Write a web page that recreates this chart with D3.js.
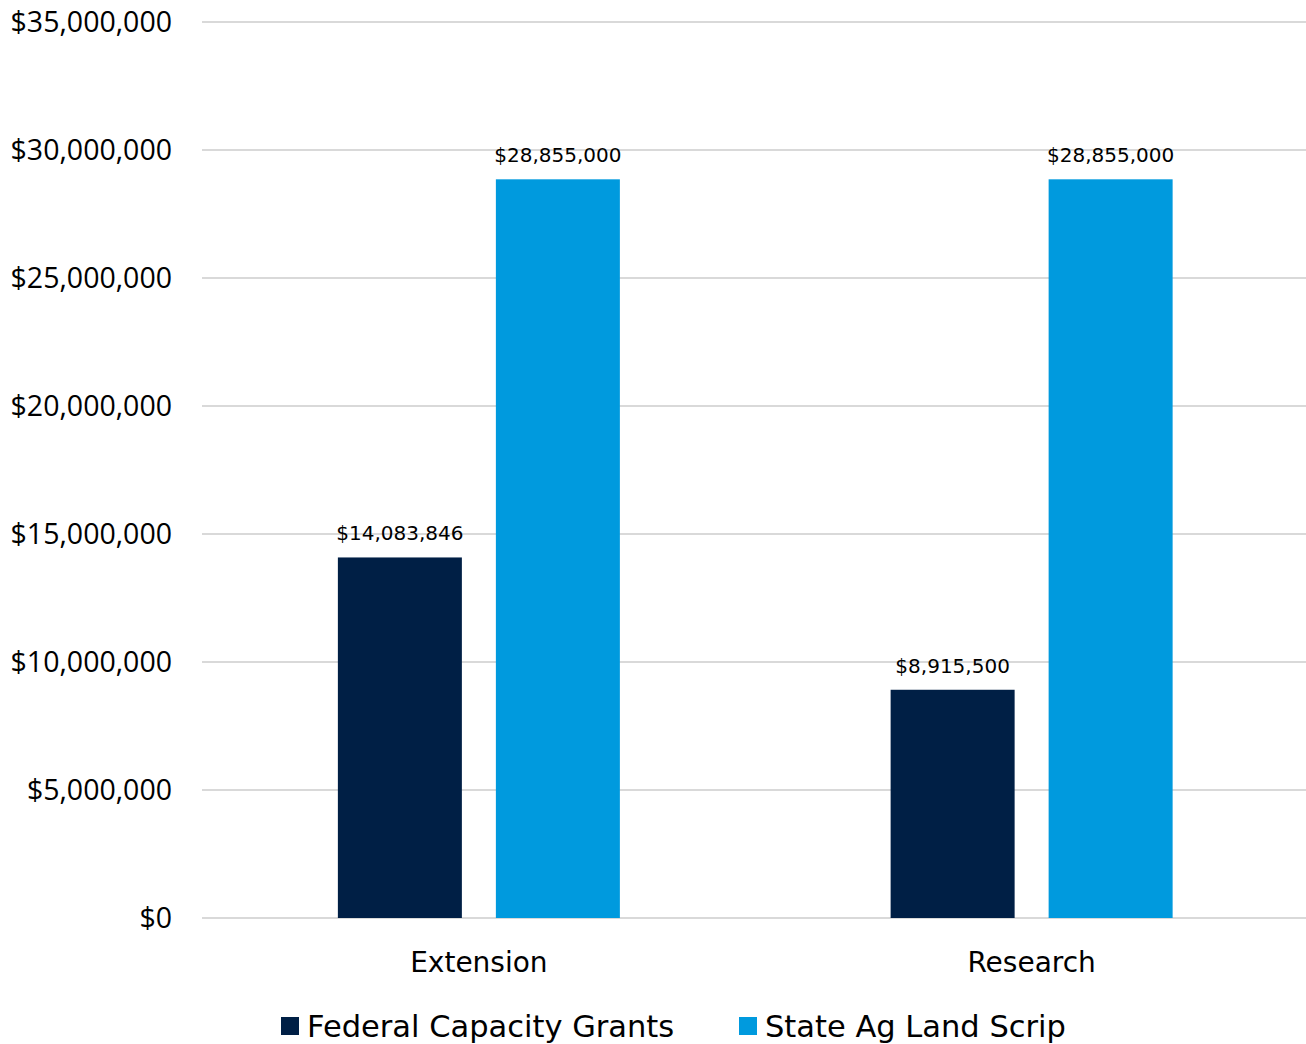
<!DOCTYPE html>
<html lang="en">
<head>
  <meta charset="UTF-8">
  <title>Capacity Grants vs Land Scrip</title>
  <script src="https://d3js.org/d3.v7.min.js"></script>
  <style>
    body { margin: 0; background: #fff; }
    .y-tick text { font-family: 'Open Sans', sans-serif; font-size: 28.5px; fill: #000; }
    .lbl { font-family: 'DejaVu Sans', sans-serif; fill: #000; }
  </style>
</head>
<body>
  <script>
    var categories = ["Extension", "Research"];
    var seriesNames = ["Federal Capacity Grants", "State Ag Land Scrip"];
    var federal = [14083846, 8915500];
    var stateScrip = [28855000, 28855000];
    var yTicks = [0, 5000000, 10000000, 15000000, 20000000, 25000000, 30000000, 35000000];

    var colors = ["#001F45", "#009ADE"];
    var width = 1306, height = 1044;
    var plotLeft = 202, plotRight = 1306, plotTop = 22, plotBottom = 918;

    var svg = d3.select("body").append("svg")
      .attr("width", width)
      .attr("height", height);

    var x = d3.scaleBand().domain(categories).range([plotLeft + 0.5, plotRight + 2]);
    var y = d3.scaleLinear().domain([0, 35000000]).range([plotBottom, plotTop]);
    var fmt = function (v) { return "$" + d3.format(",")(v); };

    // gridlines + labels
    var yTick = svg.append("g").selectAll("g")
      .data(yTicks).enter().append("g").attr("class", "y-tick");
    yTick.append("line")
      .attr("x1", plotLeft).attr("x2", plotRight)
      .attr("y1", function (d) { return y(d); })
      .attr("y2", function (d) { return y(d); })
      .attr("stroke", "#d9d9d9").attr("stroke-width", 2);
    yTick.append("text")
      .attr("x", 172)
      .attr("y", function (d) { return y(d); })
      .attr("dy", "0.35em")
      .attr("text-anchor", "end")
      .text(fmt);

    var series = [federal, stateScrip];
    var barW = 124, gap = 34;

    series.forEach(function (vals, si) {
      var g = svg.append("g");
      categories.forEach(function (c, ci) {
        var cx = x(c) + x.bandwidth() / 2;
        var bx = si === 0 ? cx - gap / 2 - barW : cx + gap / 2;
        g.append("rect")
          .attr("x", bx)
          .attr("y", y(vals[ci]))
          .attr("width", barW)
          .attr("height", y(0) - y(vals[ci]))
          .attr("fill", colors[si]);
        g.append("text")
          .attr("class", "lbl")
          .attr("x", bx + barW / 2)
          .attr("y", y(vals[ci]) - 17)
          .attr("text-anchor", "middle")
          .style("font-size", "20px")
          .text(fmt(vals[ci]));
      });
    });

    // category labels
    svg.append("g").selectAll("text")
      .data(categories).enter().append("text")
      .attr("class", "lbl")
      .attr("x", function (d) { return x(d) + x.bandwidth() / 2; })
      .attr("y", 972)
      .attr("text-anchor", "middle")
      .style("font-size", "28px")
      .text(function (d) { return d; });

    // legend
    var legX = [281, 739];
    var leg = svg.append("g").selectAll("g")
      .data(seriesNames).enter().append("g")
      .attr("transform", function (d, i) { return "translate(" + legX[i] + ",1026)"; });
    leg.append("rect")
      .attr("x", 0).attr("y", -9)
      .attr("width", 18).attr("height", 18)
      .attr("fill", function (d, i) { return colors[i]; });
    leg.append("text")
      .attr("class", "lbl")
      .attr("x", 26)
      .attr("dy", "0.36em")
      .style("font-size", "30.5px")
      .text(function (d) { return d; });
  </script>
</body>
</html>
